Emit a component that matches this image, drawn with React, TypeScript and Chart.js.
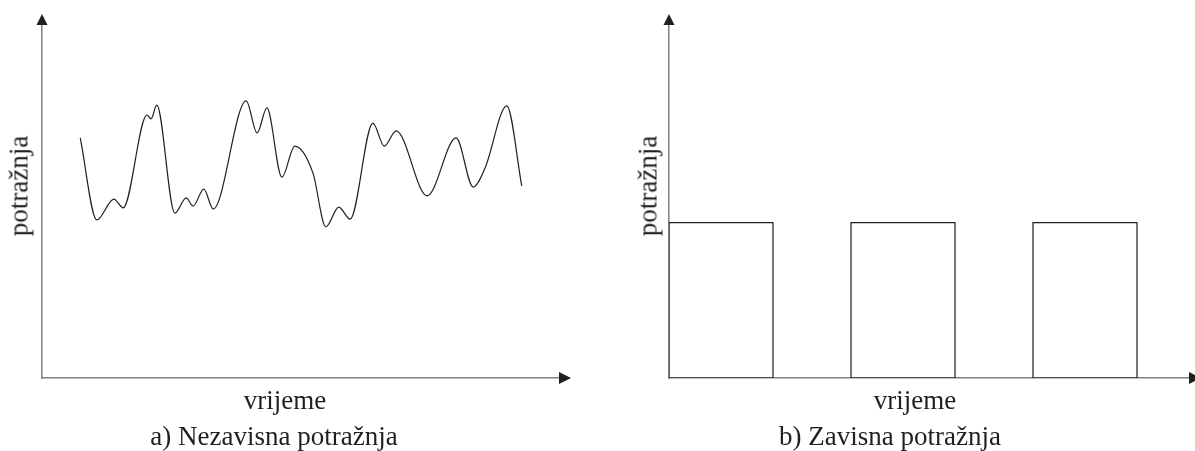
import React, { useEffect, useRef } from "react";
import { Chart, registerables } from "chart.js";

Chart.register(...registerables);

// a) Independent demand: time (x) and demand level (y) of the curve's turning points
const timeA = [7.4, 10.6, 13.9, 15.7, 20.3, 21.1, 22.2, 25.7, 27.9, 29.2, 31.3, 33.1, 39.5, 41.6, 43.5, 46.4, 48.9, 52.4, 54.9, 57.4, 59.6, 64.0, 66.2, 68.5, 74.5, 80.1, 83.4, 85.7, 89.9, 92.8];
const demandA = [68.0, 44.8, 50.7, 48.2, 74.5, 73.4, 77.3, 46.7, 51.0, 48.7, 53.5, 47.9, 78.5, 69.4, 76.5, 56.9, 65.7, 58.1, 42.8, 48.4, 45.0, 72.2, 65.7, 70.0, 51.6, 68.0, 54.1, 59.5, 77.1, 54.4];

// b) Dependent demand: lumpy blocks (start, end, level)
const orderStart = [0, 7, 14];
const orderEnd = [4, 11, 18];
const orderLevel = [44, 44, 44];

const labelsA = { y: "potražnja", x: "vrijeme", caption: "a) Nezavisna potražnja" };
const labelsB = { y: "potražnja", x: "vrijeme", caption: "b) Zavisna potražnja" };

const INK = "#231f20";
const AXIS = "#808080";
const FONT = '"Liberation Serif", "Times New Roman", serif';

const arrowPlugin = {
  id: "axisArrows",
  afterDraw(chart: any) {
    const { ctx, chartArea } = chart;
    const { left, right, top, bottom } = chartArea;
    ctx.save();
    ctx.fillStyle = INK;
    ctx.beginPath();
    ctx.moveTo(left, top - 11);
    ctx.lineTo(left - 5.5, top);
    ctx.lineTo(left + 5.5, top);
    ctx.closePath();
    ctx.fill();
    ctx.beginPath();
    ctx.moveTo(right + 12, bottom);
    ctx.lineTo(right, bottom - 6);
    ctx.lineTo(right, bottom + 6);
    ctx.closePath();
    ctx.fill();
    ctx.restore();
  },
};

function axisOpts(min: number, max: number) {
  return {
    type: "linear" as const,
    min,
    max,
    ticks: { display: false },
    grid: { display: false, drawTicks: false },
    border: { display: true, color: AXIS, width: 1.5 },
  };
}

function baseOptions(padding: any, xMax: number) {
  return {
    animation: false as const,
    responsive: false,
    events: [] as any[],
    layout: { padding },
    plugins: {
      legend: { display: false },
      tooltip: { enabled: false },
      title: { display: false },
    },
    scales: {
      x: axisOpts(0, xMax),
      y: axisOpts(0, 100),
    },
  };
}

function ChartCanvas({ config, width, height, left }: any) {
  const ref = useRef<HTMLCanvasElement | null>(null);
  useEffect(() => {
    if (!ref.current) return;
    const chart = new Chart(ref.current, config);
    return () => chart.destroy();
  }, []);
  return (
    <canvas
      ref={ref}
      width={width}
      height={height}
      style={{ position: "absolute", left, top: 0, width, height }}
    />
  );
}

const hText = (text: string, cx: number, top: number) => (
  <div
    style={{
      position: "absolute",
      left: cx,
      top,
      transform: "translateX(-50%)",
      whiteSpace: "nowrap",
      font: `27px ${FONT}`,
      lineHeight: "27px",
      color: INK,
    }}
  >
    {text}
  </div>
);

const vText = (text: string, cx: number, cy: number) => (
  <div
    style={{
      position: "absolute",
      left: cx,
      top: cy,
      transform: "translate(-50%, -50%) rotate(-90deg)",
      whiteSpace: "nowrap",
      font: `27px ${FONT}`,
      lineHeight: "27px",
      color: INK,
    }}
  >
    {text}
  </div>
);

export default function App() {
  const configA: any = {
    type: "line",
    data: {
      datasets: [
        {
          data: timeA.map((t, i) => ({ x: t, y: demandA[i] })),
          borderColor: INK,
          borderWidth: 1.2,
          pointRadius: 0,
          cubicInterpolationMode: "monotone",
          fill: false,
        },
      ],
    },
    options: baseOptions({ left: 42, right: 41, top: 25, bottom: 73 }, 100),
    plugins: [arrowPlugin],
  };

  const configB: any = {
    type: "line",
    data: {
      datasets: orderStart.map((s, i) => ({
        data: [
          { x: s, y: 0 },
          { x: s, y: orderLevel[i] },
          { x: orderEnd[i], y: orderLevel[i] },
          { x: orderEnd[i], y: 0 },
          { x: s, y: 0 },
        ],
        borderColor: INK,
        borderWidth: 1.2,
        pointRadius: 0,
        tension: 0,
        fill: false,
      })),
    },
    options: baseOptions({ left: 69, right: 6, top: 25, bottom: 73 }, 20),
    plugins: [arrowPlugin],
  };

  useEffect(() => {
    document.body.style.margin = "0";
  }, []);

  return (
    <div
      style={{
        position: "fixed",
        left: 0,
        top: 0,
        width: 1195,
        height: 451,
        overflow: "hidden",
        background: "#fff",
      }}
    >
      <ChartCanvas config={configA} width={600} height={451} left={0} />
      <ChartCanvas config={configB} width={595} height={451} left={600} />
      {vText(labelsA.y, 19, 186)}
      {hText(labelsA.x, 285, 387)}
      {hText(labelsA.caption, 274, 423)}
      {vText(labelsB.y, 648, 186)}
      {hText(labelsB.x, 915, 387)}
      {hText(labelsB.caption, 890, 423)}
    </div>
  );
}
